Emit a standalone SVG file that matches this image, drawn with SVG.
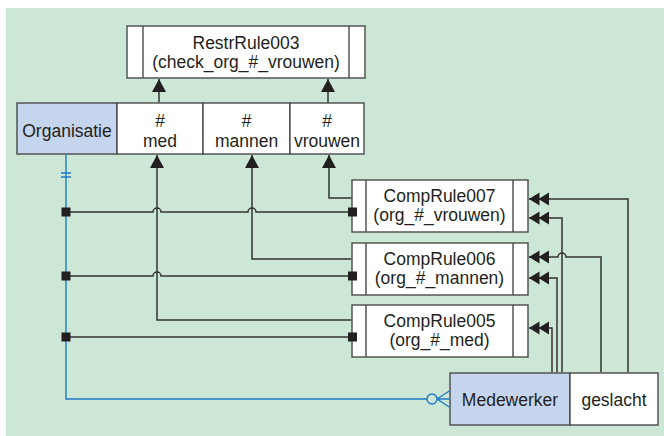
<svg xmlns="http://www.w3.org/2000/svg" width="664" height="436" viewBox="0 0 664 436">
<defs>
<style>
text{font-family:"Liberation Sans",Arial,sans-serif;font-size:17.5px;fill:#231f20;text-anchor:middle}
.box{fill:#fff;stroke:#4a4a4a;stroke-width:1.4}
.ent{fill:#c6d5ee;stroke:#4a4a4a;stroke-width:1.4}
.div{stroke:#4a4a4a;stroke-width:1.4;fill:none}
.c{fill:none;stroke:#333;stroke-width:1.5}
.blue{fill:none;stroke:#1f78c8;stroke-width:1.4}
.sq{fill:#231f20}
</style>
<marker id="arr" markerUnits="userSpaceOnUse" orient="auto" refX="0" refY="0" markerWidth="1" markerHeight="1" overflow="visible">
<path d="M0,0 L-13,-7 L-13,7 Z" fill="#231f20"/>
</marker>
<marker id="darr" markerUnits="userSpaceOnUse" orient="auto" refX="0" refY="0" markerWidth="1" markerHeight="1" overflow="visible">
<path d="M0,0 L-10.5,-6.5 L-10.5,6.5 Z M-9.5,0 L-20,-6.5 L-20,6.5 Z" fill="#231f20"/>
</marker>
</defs>
<rect x="6" y="8" width="658" height="428" fill="#cde7d6"/>

<g id="RestrRule003">
<rect class="box" x="127" y="26" width="238" height="52"/>
<path class="div" d="M143,26 V78 M349,26 V78"/>
<text x="246" y="49">RestrRule003</text>
<text x="246" y="68">(check_org_#_vrouwen)</text>
</g>

<g id="Organisatie">
<rect class="ent" x="17" y="103" width="100" height="51"/>
<rect class="box" x="117" y="103" width="86" height="51"/>
<rect class="box" x="203" y="103" width="87" height="51"/>
<rect class="box" x="290" y="103" width="74" height="51"/>
<text x="67" y="137">Organisatie</text>
<text x="160" y="127">#</text>
<text x="160" y="147">med</text>
<text x="246.5" y="127">#</text>
<text x="246.5" y="147">mannen</text>
<text x="327" y="127">#</text>
<text x="327" y="147">vrouwen</text>
</g>

<g id="CompRule007">
<rect class="box" x="352" y="180" width="176" height="52"/>
<path class="div" d="M366,180 V232 M513,180 V232"/>
<text x="439.5" y="202">CompRule007</text>
<text x="439.5" y="221">(org_#_vrouwen)</text>
</g>

<g id="CompRule006">
<rect class="box" x="352" y="243" width="176" height="52"/>
<path class="div" d="M366,243 V295 M513,243 V295"/>
<text x="439.5" y="265">CompRule006</text>
<text x="439.5" y="284">(org_#_mannen)</text>
</g>

<g id="CompRule005">
<rect class="box" x="352" y="305" width="176" height="52"/>
<path class="div" d="M366,305 V357 M513,305 V357"/>
<text x="439.5" y="327">CompRule005</text>
<text x="439.5" y="346">(org_#_med)</text>
</g>

<g id="Medewerker">
<rect class="ent" x="450" y="373" width="120" height="52"/>
<rect class="box" x="570" y="373" width="88" height="52"/>
<text x="510" y="406">Medewerker</text>
<text x="614" y="406">geslacht</text>
</g>

<g id="connectors">
<path class="blue" d="M66,154.7 V399 H427"/>
<path class="blue" d="M61,173 H71 M61,177 H71"/>
<circle class="blue" cx="432" cy="399" r="5"/>
<path class="blue" d="M437,399 H449.3 M437,399 L449.3,391 M437,399 L449.3,407"/>
<path class="c" d="M159,102.3 V79" marker-end="url(#arr)"/>
<path class="c" d="M328,102.3 V79" marker-end="url(#arr)"/>
<path class="c" d="M351.3,198 H329 V155" marker-end="url(#arr)"/>
<path class="c" d="M351.3,259 H252 V155" marker-end="url(#arr)"/>
<path class="c" d="M351.3,320 H157 V155" marker-end="url(#arr)"/>
<path class="c" d="M66,212 H153 a4,4 0 0 1 8,0 H248 a4,4 0 0 1 8,0 H352"/>
<path class="c" d="M66,276 H153 a4,4 0 0 1 8,0 H352"/>
<path class="c" d="M66,337 H352"/>
<path class="c" d="M628,372.3 V199 H529" marker-end="url(#darr)"/>
<path class="c" d="M562,372.3 V218 H529" marker-end="url(#darr)"/>
<path class="c" d="M601,372.3 V257 H566 a4,4 0 0 0 -8,0 H529" marker-end="url(#darr)"/>
<path class="c" d="M557,372.3 V278 H529" marker-end="url(#darr)"/>
<path class="c" d="M552,372.3 V328 H529" marker-end="url(#darr)"/>
<rect class="sq" x="61.5" y="207.5" width="9" height="9"/>
<rect class="sq" x="61.5" y="271.5" width="9" height="9"/>
<rect class="sq" x="61.5" y="332.5" width="9" height="9"/>
<rect class="sq" x="348" y="207.5" width="9" height="9"/>
<rect class="sq" x="348" y="271.5" width="9" height="9"/>
<rect class="sq" x="348" y="332.5" width="9" height="9"/>
</g>
</svg>
